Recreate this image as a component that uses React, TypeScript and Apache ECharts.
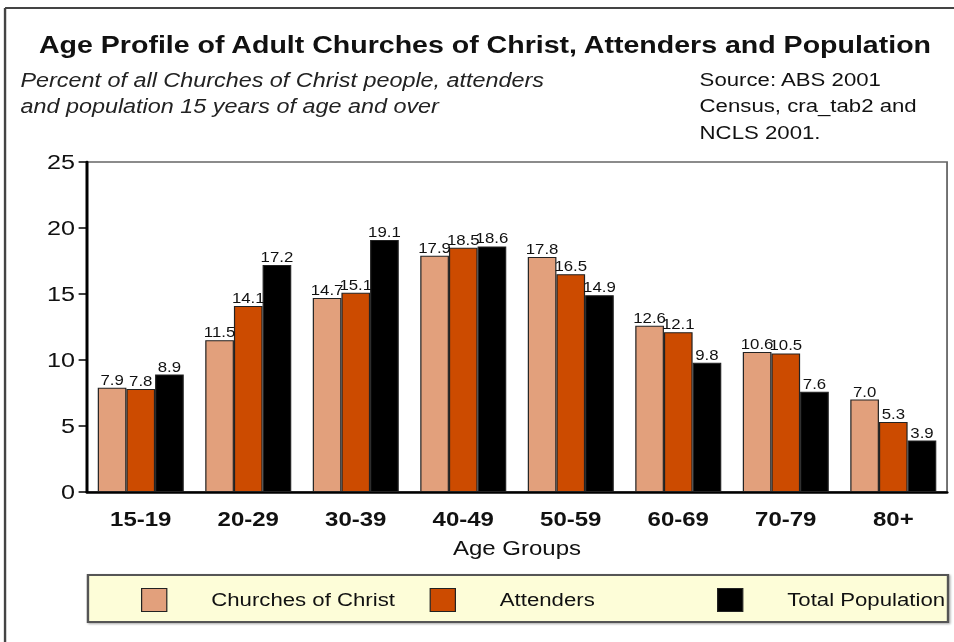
import React, { useEffect, useRef } from "react";
import * as echarts from "echarts";

const categories = ["15-19", "20-29", "30-39", "40-49", "50-59", "60-69", "70-79", "80+"];
const churchesOfChrist = [7.9, 11.5, 14.7, 17.9, 17.8, 12.6, 10.6, 7.0];
const attenders = [7.8, 14.1, 15.1, 18.5, 16.5, 12.1, 10.5, 5.3];
const totalPopulation = [8.9, 17.2, 19.1, 18.6, 14.9, 9.8, 7.6, 3.9];
const seriesNames = ["Churches of Christ", "Attenders", "Total Population"];
const seriesColors = ["#E2A07C", "#CC4B00", "#000000"];

const titleText = "Age Profile of Adult Churches of Christ, Attenders and Population";
const subtitleText = "Percent of all Churches of Christ people, attenders\nand population 15 years of age and over";
const sourceText = "Source: ABS 2001\nCensus, cra_tab2 and\nNCLS 2001.";

const SX = 1.2; // horizontal stretch of the reference
const W = 954 / SX;
const H = 642;
const FONT = "Arial, 'Liberation Sans', Helvetica, sans-serif";

export default function App() {
  const ref = useRef<HTMLDivElement>(null);
  useEffect(() => {
    if (!ref.current) return;
    const chart = echarts.init(ref.current, null, { renderer: "svg" });
    const dataSets = [churchesOfChrist, attenders, totalPopulation];
    const legendLefts = [117.5, 358, 597.5];
    const textGaps = [32, 32, 32];
    chart.setOption({
      animation: false,
      backgroundColor: "#ffffff",
      textStyle: { fontFamily: FONT },
      title: [
        {
          text: titleText,
          left: 27.5,
          top: 28,
          textStyle: { fontSize: 23.8, fontWeight: "bold", color: "#111", fontFamily: FONT },
        },
        {
          text: subtitleText,
          left: 12,
          top: 63,
          textStyle: { fontSize: 19.5, fontStyle: "italic", fontWeight: "normal", color: "#222", lineHeight: 26, fontFamily: FONT },
        },
        {
          text: sourceText,
          left: 578,
          top: 61,
          textStyle: { fontSize: 18.5, fontWeight: "normal", color: "#111", lineHeight: 26.5, fontFamily: FONT },
        },
      ],
      legend: seriesNames.map((name, i) => ({
        data: [name],
        left: legendLefts[i],
        top: 588,
        padding: 0,
        itemWidth: 21,
        itemHeight: 23,
        icon: "rect",
        itemStyle: { borderColor: "#222", borderWidth: 1 },
        selectedMode: false,
        textStyle: { fontSize: 18.5, color: "#111", padding: [0, 0, 0, textGaps[i]], fontFamily: FONT },
      })),
      graphic: [
        {
          type: "rect",
          shape: { x: 73.3, y: 575, width: 716.7, height: 47 },
          style: { fill: "#FDFDD8", stroke: "#555", lineWidth: 2, shadowColor: "rgba(0,0,0,0.35)", shadowBlur: 2, shadowOffsetX: 1, shadowOffsetY: 1 },
          z: -1,
        },
        {
          type: "line",
          shape: { x1: 4.2, y1: 8, x2: W, y2: 8 },
          style: { stroke: "#444", lineWidth: 2 },
        },
        {
          type: "line",
          shape: { x1: 4.2, y1: 8, x2: 4.2, y2: H },
          style: { stroke: "#444", lineWidth: 2 },
        },
      ],
      grid: {
        left: 72.5,
        right: 5.8,
        top: 162,
        bottom: 150,
        show: true,
        borderColor: "#666",
        borderWidth: 1.5,
        backgroundColor: "transparent",
      },
      xAxis: {
        type: "category",
        data: categories,
        name: "Age Groups",
        nameLocation: "middle",
        nameGap: 46,
        nameTextStyle: { fontSize: 20, color: "#111", fontFamily: FONT },
        axisLine: { show: true, lineStyle: { color: "#000", width: 2.5 } },
        axisTick: { show: false },
        axisLabel: { fontSize: 20, fontWeight: "bold", color: "#111", margin: 17, fontFamily: FONT },
      },
      yAxis: {
        type: "value",
        min: 0,
        max: 25,
        interval: 5,
        axisLine: { show: true, lineStyle: { color: "#000", width: 2.5 } },
        axisTick: { show: true, length: 7, lineStyle: { color: "#000", width: 1.5 } },
        axisLabel: { fontSize: 21, color: "#111", margin: 10, fontFamily: FONT },
        splitLine: { show: false },
      },
      series: seriesNames.map((name, i) => ({
        name,
        type: "bar",
        data: dataSets[i],
        barGap: "0%",
        barCategoryGap: "20%",
        itemStyle: { color: seriesColors[i], borderColor: "#222", borderWidth: 1 },
        label: {
          show: true,
          position: "top",
          distance: 1,
          fontSize: 14,
          color: "#111",
          fontFamily: FONT,
          formatter: (p: any) => Number(p.value).toFixed(1),
        },
      })),
    });
    return () => chart.dispose();
  }, []);

  return (
    <div style={{ position: "fixed", left: 0, top: 0, width: 954, height: H, overflow: "hidden", background: "#fff" }}>
      <div
        ref={ref}
        style={{ width: W, height: H, transform: `scaleX(${SX})`, transformOrigin: "0 0" }}
      />
    </div>
  );
}
